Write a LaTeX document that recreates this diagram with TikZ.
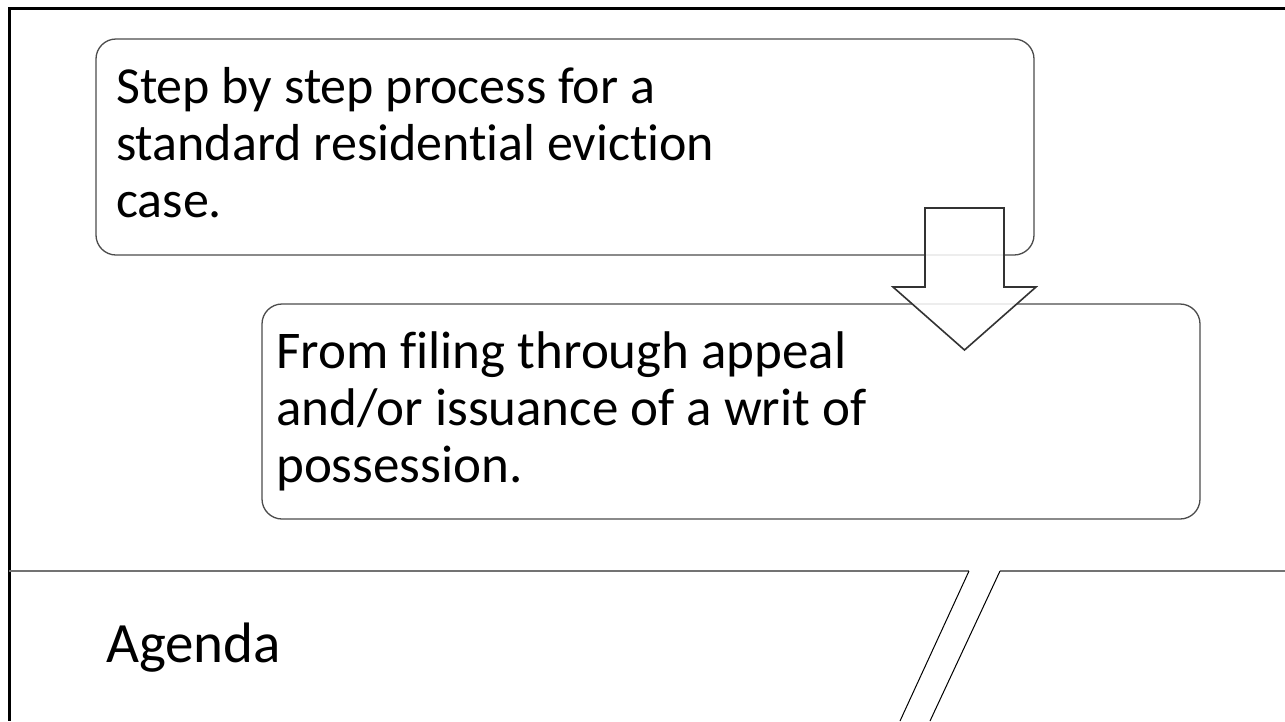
\documentclass[tikz,border=0pt]{standalone}
\usepackage{fontspec}
\setmainfont[Ligatures=NoCommon]{Carlito}
\begin{document}
\begin{tikzpicture}[x=1pt,y=-1pt,
  boxstyle/.style={draw=black!70, line width=1.3pt, rounded corners=20pt, fill=white},
  txt/.style={inner sep=0pt, anchor=base west, align=left},
  framestyle/.style={draw=black, line width=3pt},
  rulestyle/.style={draw=black!55, line width=1.2pt},
  slantstyle/.style={draw=black, line width=1pt},
  arrowstyle/.style={draw=black!80, line width=1.6pt, fill=white, fill opacity=0.85, line join=miter}]
\useasboundingbox (0,0) rectangle (1285,721);
\fill[white] (0,0) rectangle (1285,721);
% frame
\coordinate (ftr) at (1285,8.5);
\coordinate (ftl) at (8,8.5);
\coordinate (flt) at (9.5,7);
\coordinate (flb) at (9.5,721);
\draw[framestyle] (ftl) -- (ftr);
\draw[framestyle] (flt) -- (flb);
% box 1
\draw[boxstyle] (96,39) rectangle (1034,255);
\node[txt, font=\fontsize{52}{57}\selectfont] (t1) at (116,217) {Step by step process for a\\standard residential eviction\\case.};
% box 2
\draw[boxstyle] (262,304) rectangle (1200,519);
\node[txt, font=\fontsize{53}{57}\selectfont] (t2) at (276,482) {From filing through appeal\\and/or issuance of a writ of\\possession.};
% arrow
\draw[arrowstyle] (925,208) -- (1004,208) -- (1004,287) -- (1036,287) -- (964.5,350) -- (893,287) -- (925,287) -- cycle;
% bottom rule and slants
\coordinate (ra) at (9,571);
\coordinate (rb) at (969,571);
\coordinate (rc) at (1000,571);
\coordinate (rd) at (1285,571);
\coordinate (sa) at (900,721);
\coordinate (sb) at (930,721);
\draw[rulestyle] (ra) -- (rb);
\draw[rulestyle] (rc) -- (rd);
\draw[slantstyle] (rb) -- (sa);
\draw[slantstyle] (rc) -- (sb);
\node[inner sep=0pt, anchor=base west, font=\fontsize{57}{68}\selectfont] (ag) at (106,662) {Agenda};
\end{tikzpicture}
\end{document}
